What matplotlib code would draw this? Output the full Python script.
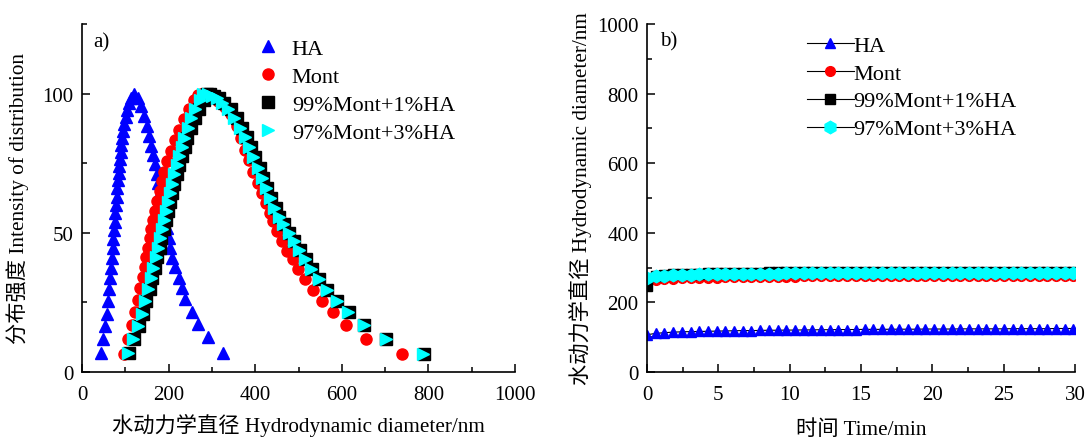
import matplotlib
matplotlib.use("Agg")
import matplotlib.pyplot as plt
from matplotlib.ticker import MultipleLocator

plt.rcParams['font.family'] = ['Liberation Serif', 'Noto Sans CJK SC']

# (a) 粒径分布
ha_d = [44, 49, 53, 57, 61, 63, 65, 67, 69, 70.5, 72.5, 74, 75.5, 77, 78.5,
        80, 81.5, 83, 85, 86.5, 88, 89.5, 91, 93, 95.5, 98, 101, 104, 108, 113,
        121, 129, 136, 143, 149.5, 155, 159.5, 165, 169, 172.5, 176.5, 180, 184,
        188, 192, 196, 200, 204, 209, 215, 223, 231, 238, 254, 269, 290, 325]
ha_i = [7, 11.8, 16.6, 21, 25.6, 29.7, 33.7, 37.5, 41, 44.4, 47.8, 51, 54, 57,
        60, 63, 66, 68.8, 71.5, 74, 76.5, 79, 81.5, 84, 86.5, 89, 91.5, 94, 96.5,
        98.5, 100, 98.5, 95.4, 91.9, 88.3, 84.7, 81.1, 77.9, 74.6, 71.2, 68, 64.8,
        61.4, 58.1, 54.8, 51.9, 48.3, 44.7, 41.1, 37.7, 33.9, 30.1, 26.2, 21.6,
        17.2, 12.4, 7]

mont_d = [97, 107, 115, 122, 129, 135, 140, 144.5, 148.5, 152.5, 156.5, 160.5,
          164.5, 169, 174, 179, 184.5, 190.5, 197, 205, 215, 225, 236, 247, 259,
          269, 275, 283, 292, 303, 315, 330, 344, 357, 367, 377, 386, 396, 406,
          415, 424, 434, 442, 450, 462, 473, 487, 499, 515, 533, 554, 580, 610,
          657, 738]
mont_i = [6.5, 11.8, 16.8, 21.4, 25.8, 30, 34, 37.7, 41.2, 44.6, 48, 51.3, 54.7,
          58, 61.5, 65, 68.5, 72, 75.7, 79.5, 83.3, 87, 90.8, 94.5, 97.8, 99.5,
          100, 99.7, 99.2, 98.4, 97.2, 95.2, 92.5, 88.3, 84.1, 79.9, 76, 71.9, 68,
          64.4, 60.8, 57.2, 54.2, 50.5, 47, 43.6, 40.5, 36.9, 33.3, 29.5, 25.6,
          21.4, 16.8, 11.8, 6.5]

m99_d = [108, 121, 131, 140.5, 148, 156, 162, 168, 173.5, 179.5, 183.5, 189, 194,
         198, 203.5, 208.5, 213.5, 218.5, 224.5, 230, 237, 243.5, 252, 260, 270,
         281, 288, 296, 306, 317, 329, 343, 357, 369, 380, 390, 400, 410, 419,
         428, 437, 447, 456, 467, 479, 490, 503, 517, 531, 548, 566, 589, 616,
         652, 702, 789]
m99_i = [6.7, 11.8, 16.6, 21, 25.6, 29.7, 33.7, 37.5, 41.3, 44.7, 48, 51.3, 54.5,
         57.8, 61.2, 64.4, 67.6, 71, 74.3, 77.5, 80.8, 84.1, 87.7, 91.3, 94.6,
         97.7, 100, 99.7, 99.2, 98.3, 96.8, 94.3, 91.2, 87.8, 84.3, 80.7, 77.1,
         73.4, 69.7, 66.1, 62.5, 58.9, 55.7, 53, 50, 47, 43.8, 40.5, 36.9, 33.3,
         29.5, 25.6, 21.4, 16.8, 11.8, 6.5]

m97_d = [106, 118.7, 128.7, 138, 145.7, 153.4, 159.5, 165, 170.4, 176.5, 180.3,
         185.8, 190.4, 194.2, 199.6, 204.2, 209, 213.5, 219, 224.3, 230.5, 236.5,
         244.4, 252, 261.3, 272.8, 280, 290, 300, 311, 323, 338, 352, 365, 376,
         386, 396, 406, 416, 425, 434, 444, 454, 465, 477, 489, 502, 516, 530,
         547, 565, 588, 615, 651, 701, 788]
m97_i = m99_i

# (b) 粒径随时间变化
time_min = [0.0, 0.61, 1.22, 1.83, 2.44, 3.05, 3.66, 4.27, 4.88, 5.49, 6.1, 6.71,
            7.32, 7.93, 8.54, 9.15, 9.76, 10.37, 10.98, 11.59, 12.2, 12.81, 13.42,
            14.03, 14.64, 15.25, 15.86, 16.47, 17.08, 17.69, 18.3, 18.91, 19.52,
            20.13, 20.74, 21.35, 21.96, 22.57, 23.18, 23.79, 24.4, 25.01, 25.62,
            26.23, 26.84, 27.45, 28.06, 28.67, 29.28, 29.89]
ha_t = [107, 111, 113, 114.5, 115.5, 116, 116.5, 117, 117.5, 118,
        118.5, 119, 119, 119.5, 120, 120, 120.5, 120.5, 121, 121,
        121.5, 121.5, 122, 122, 122, 122.5, 122.5, 122.5, 123, 123,
        123, 123, 123.5, 123.5, 123.5, 123.5, 124, 124, 124, 124,
        124, 124, 124.5, 124.5, 124.5, 124.5, 124.5, 125, 125, 125]
mont_t = [262, 265, 267, 268, 269, 270, 270.5, 271, 271.5, 272,
          272.5, 273, 273, 273.5, 273.5, 274, 274, 274, 274.5, 274.5,
          274.5, 275, 275, 275, 275, 275, 275.5, 275.5, 275.5, 275.5,
          275.5, 276, 276, 276, 276, 276, 276, 276.5, 276.5, 276.5,
          276.5, 276.5, 276.5, 277, 277, 277, 277, 277, 277, 277]
m99_t = [247, 277, 279, 280.5, 281.5, 282.5, 283, 283.5, 284, 284.5,
         285, 285, 285.5, 285.5, 286, 286, 286, 286, 286.5, 286.5,
         286.5, 286.5, 286.5, 287, 287, 287, 287, 287, 287, 287,
         287, 287.5, 287.5, 287.5, 287.5, 287.5, 287.5, 287.5, 287.5, 287.5,
         288, 288, 288, 288, 288, 288, 288, 288, 288, 288]
m97_t = [271, 275, 277, 278.5, 279.5, 280, 280.5, 281, 281.5, 282,
         282, 282.5, 282.5, 283, 283, 283, 283.5, 283.5, 283.5, 283.5,
         284, 284, 284, 284, 284, 284, 284.5, 284.5, 284.5, 284.5,
         284.5, 284.5, 284.5, 285, 285, 285, 285, 285, 285, 285,
         285, 285, 285, 285, 285, 285, 285, 285, 285, 285]

labels = ['HA', 'Mont', '99%Mont+1%HA', '97%Mont+3%HA']
colors = ['#0000ff', '#ff0000', '#000000', '#00ffff']

fs_tick = 15
fs_label = 15.3
fs_legend = 16

fig = plt.figure(figsize=(10.88, 4.39), dpi=100)
ax1 = fig.add_axes([82 / 1088, 1 - 373 / 439, 433 / 1088, 348 / 439])
ax2 = fig.add_axes([647 / 1088, 1 - 373 / 439, 428 / 1088, 348 / 439])

# --- a) ---
ax1.plot(ha_d, ha_i, ls='none', marker='^', ms=8.6, color=colors[0], label=labels[0])
ax1.plot(mont_d, mont_i, ls='none', marker='o', ms=8, color=colors[1], label=labels[1])
ax1.plot(m99_d, m99_i, ls='none', marker='s', ms=8, color=colors[2], label=labels[2])
ax1.plot(m97_d, m97_i, ls='none', marker='>', ms=8.6, color=colors[3], label=labels[3])

ax1.set_xlim(0, 1000)
ax1.set_ylim(0, 125)
ax1.xaxis.set_major_locator(MultipleLocator(200))
ax1.xaxis.set_minor_locator(MultipleLocator(100))
ax1.yaxis.set_major_locator(MultipleLocator(50))
ax1.yaxis.set_minor_locator(MultipleLocator(25))
ax1.set_xlabel('水动力学直径 Hydrodynamic diameter/nm', fontsize=fs_label, labelpad=7)
ax1.set_ylabel('分布强度 Intensity of distribution', fontsize=fs_label, labelpad=10)
ax1.text(0.025, 0.948, 'a)', transform=ax1.transAxes, fontsize=fs_tick, va='center')
ax1.legend(loc='upper left', bbox_to_anchor=(0.405, 0.958), frameon=False,
           fontsize=fs_legend, handlelength=1.0, handletextpad=0.55, labelspacing=0.33,
           borderpad=0, borderaxespad=0)

# --- b) ---
ax2.plot(time_min, ha_t, '-', lw=0.8, color='k', marker='^', ms=7.8,
         mfc=colors[0], mec=colors[0], label=labels[0])
ax2.plot(time_min, mont_t, '-', lw=0.8, color='k', marker='o', ms=7,
         mfc=colors[1], mec=colors[1], label=labels[1])
ax2.plot(time_min, m99_t, '-', lw=0.8, color='k', marker='s', ms=7,
         mfc=colors[2], mec=colors[2], label=labels[2])
ax2.plot(time_min, m97_t, '-', lw=0.8, color='k', marker='h', ms=9,
         mfc=colors[3], mec=colors[3], label=labels[3])

ax2.set_xlim(0, 30)
ax2.set_ylim(0, 1000)
ax2.xaxis.set_major_locator(MultipleLocator(5))
ax2.xaxis.set_minor_locator(MultipleLocator(2.5))
ax2.yaxis.set_major_locator(MultipleLocator(200))
ax2.yaxis.set_minor_locator(MultipleLocator(100))
ax2.set_xlabel('时间 Time/min', fontsize=fs_label, labelpad=11)
ax2.set_ylabel('水动力学直径 Hydrodynamic diameter/nm', fontsize=fs_label, labelpad=4)
ax2.text(0.03, 0.951, 'b)', transform=ax2.transAxes, fontsize=fs_tick, va='center')
ax2.legend(loc='upper left', bbox_to_anchor=(0.374, 0.968), frameon=False,
           fontsize=fs_legend, handlelength=2.1, handletextpad=0.0, labelspacing=0.33,
           borderpad=0, borderaxespad=0)

for ax in (ax1, ax2):
    for side in ('top', 'right'):
        ax.spines[side].set_visible(False)
    for side in ('left', 'bottom'):
        ax.spines[side].set_linewidth(1.2)
    ax.tick_params(which='both', direction='in', width=1.1, labelsize=fs_tick)
    ax.tick_params(axis='x', which='both', pad=9)
    ax.tick_params(axis='y', which='both', pad=6)
    ax.tick_params(which='major', length=6)
    ax.tick_params(which='minor', length=3.5)

fig.savefig('out.png', dpi=100)
